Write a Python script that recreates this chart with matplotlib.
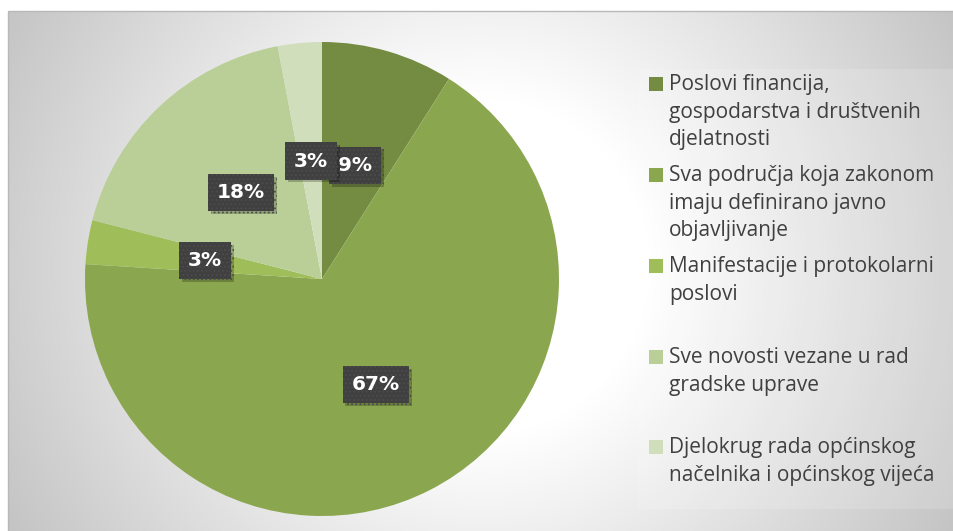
import numpy as np
import matplotlib
matplotlib.use('Agg')
from matplotlib import pyplot as plt
from matplotlib import patheffects as pe
from matplotlib.patches import Rectangle

# Data
categories = ['Poslovi financija,\ngospodarstva i društvenih\ndjelatnosti',
              'Sva područja koja zakonom\nimaju definirano javno\nobjavljivanje',
              'Manifestacije i protokolarni\nposlovi',
              'Sve novosti vezane u rad\ngradske uprave',
              'Djelokrug rada općinskog\nnačelnika i općinskog vijeća']
shares = [9, 67, 3, 18, 3]
colors = ['#748b42', '#8aa64e', '#9fbe5a', '#b9cf97', '#d0debc']

W, H = 954, 531
plt.rcParams['hatch.color'] = '#4c4c4c'
plt.rcParams['hatch.linewidth'] = 0.8

fig = plt.figure(figsize=(W / 100, H / 100), dpi=100)
fig.patch.set_facecolor('white')

# Background: radial gradient in chart area
bg = fig.add_axes([0, 0, 1, 1])
bg.set_xlim(0, W)
bg.set_ylim(H, 0)
bg.axis('off')
yy, xx = np.mgrid[11:H, 8:W]
r = np.hypot(xx - 481, yy - 266) / 560
g = 255 - np.clip(r - 0.3, 0, None) / 0.7 * 62
g = np.clip(g, 185, 255) / 255
img = np.dstack([g, g, g])
bg.imshow(img, extent=(8, W, H, 11), aspect='auto', interpolation='bilinear')
bg.add_patch(Rectangle((8, 11), W, H, fill=False, ec='#b8b8b8', lw=1))
# legend panel
bg.add_patch(Rectangle((637, 69), W - 637, 440, fc='white', alpha=0.15, ec='none'))

# Pie
cx, cy, rad = 322, 279, 237
ax = fig.add_axes([(cx - rad) / W, (H - cy - rad) / H, 2 * rad / W, 2 * rad / H])
wedges, texts, autotexts = ax.pie(
    shares, colors=colors, startangle=90, counterclock=False,
    autopct=lambda p: '{:.0f}%'.format(p), pctdistance=0.5,
    wedgeprops=dict(linewidth=0),
    textprops=dict(color='white', fontsize=14.5, fontweight='bold', family='DejaVu Sans'))
ax.set_xlim(-1, 1)
ax.set_ylim(-1, 1)
ax.set_aspect('auto')

for t in autotexts:
    t.set_bbox(dict(boxstyle='square,pad=0.45', fc='#404040', ec='#4c4c4c', lw=0, hatch='....'))
    t.get_bbox_patch().set_path_effects([
        pe.withSimplePatchShadow(offset=(2, -2), shadow_rgbFace='black', alpha=0.22)])

# Legend drawn by hand
entry_y = [84, 175, 266, 357, 447]
for label, col, y in zip(categories, colors, entry_y):
    bg.add_patch(Rectangle((649, y - 7), 14, 14, fc=col, ec='none'))
    bg.text(669, y - 10, label, fontsize=15, color='#404040', family='Open Sans',
            va='top', ha='left', linespacing=1.42)

fig.savefig('out.png', dpi=100)
